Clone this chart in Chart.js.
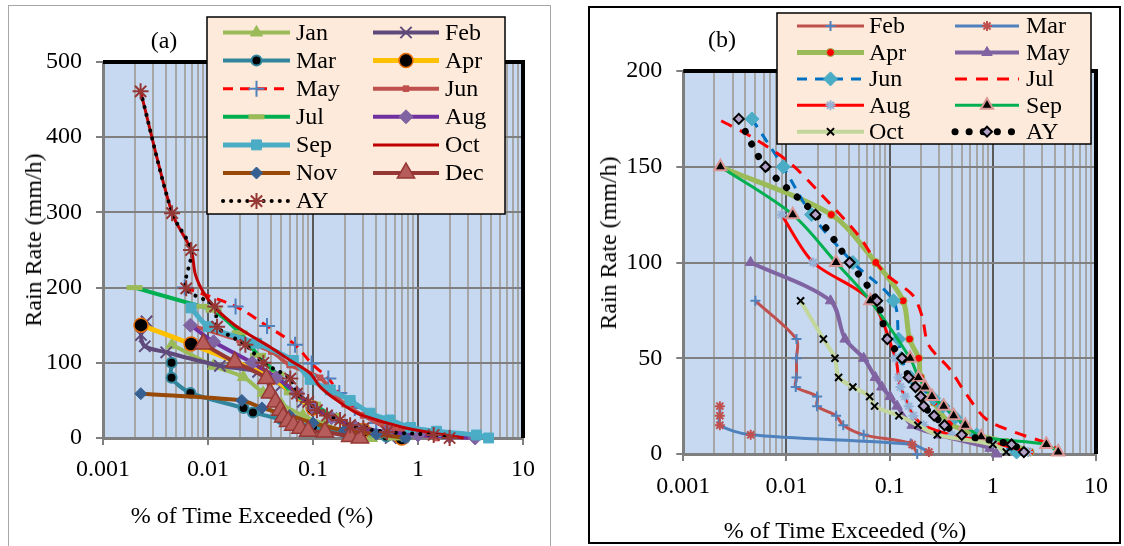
<!DOCTYPE html>
<html>
<head>
<meta charset="utf-8">
<script src="https://cdn.jsdelivr.net/npm/chart.js@4.4.1/dist/chart.umd.min.js"></script>
<style>
  body { margin:0; background:#fff; width:1124px; height:546px; overflow:hidden; position:relative; font-family:"Liberation Serif","Times New Roman",serif; }
  #frameA { position:absolute; left:8px; top:5px; width:541px; height:560px; border:1px solid #A6A6A6; }
  #frameB { position:absolute; left:588px; top:6px; width:529px; height:534px; border:2px solid #000; }
  canvas { position:absolute; top:0; }
  #cA { left:0; }
  #cB { left:560px; }
  .lbl { position:absolute; font-size:24px; line-height:1; color:#000; white-space:nowrap; transform:translate(-50%,-50%); }
  .rot { transform:translate(-50%,-50%) rotate(-90deg); }
</style>
</head>
<body>
<div id="frameA"></div>
<div id="frameB"></div>
<canvas id="cA" width="560" height="546"></canvas>
<canvas id="cB" width="564" height="546"></canvas>
<div class="lbl" style="left:164px;top:40px">(a)</div>
<div class="lbl" style="left:722px;top:39px">(b)</div>
<div class="lbl rot" style="left:33px;top:240px">Rain Rate (mm/h)</div>
<div class="lbl rot" style="left:608px;top:243px">Rain Rate (mm/h)</div>
<div class="lbl" style="left:252px;top:515px">% of Time Exceeded (%)</div>
<div class="lbl" style="left:845px;top:530px">% of Time Exceeded (%)</div>
<script>
// x tick labels (log axis, decades only)
const xTickLabels = ['0.001', '0.01', '0.1', '1', '10'];
const xDecades = [0.001, 0.01, 0.1, 1, 10];

// ---- panel (a): [% of time, rain rate] ----
const aNames = ['Jan','Feb','Mar','Apr','May','Jun','Jul','Aug','Sep','Oct','Nov','Dec','AY'];
const aJan = [[0.00454,124],[0.0113,96],[0.0217,81],[0.0335,60],[0.05,45],[0.08,30],[0.13,18],[0.2,8],[0.36,0]];
const aFeb = [[0.0026,155],[0.0023,137],[0.0025,122],[0.004,114],[0.013,96],[0.03,88],[0.05,70],[0.08,48],[0.15,26],[0.3,10],[0.55,0]];
const aMar = [[0.0045,100],[0.0045,80],[0.0068,60],[0.0218,40],[0.0268,34],[0.05,25],[0.1,15],[0.2,7],[0.5,2],[0.75,0]];
const aApr = [[0.0023,150],[0.0069,125],[0.04,80],[0.1,40],[0.3,10],[0.7,0]];
const aMay = [[0.006,200],[0.0183,175],[0.0365,149],[0.0675,124],[0.097,99],[0.14,79],[0.178,60],[0.25,40],[0.4,20],[0.7,5]];
const aJun = [[0.0068,150],[0.02,130],[0.04,115],[0.06,97],[0.117,80],[0.156,60],[0.2,45],[0.3,30],[0.5,15],[1,5],[1.5,0]];
const aJul = [[0.002,200],[0.0085,175],[0.0113,170],[0.02,140],[0.03,110],[0.045,85],[0.063,60],[0.1,45],[0.15,30],[0.25,15],[0.4,5],[0.6,0]];
const aAug = [[0.0068,150],[0.0113,128],[0.0264,100],[0.045,80],[0.07,60],[0.1,40],[0.15,27],[0.25,15],[0.5,8],[1,4],[2,2],[3.5,0]];
const aSep = [[0.0069,173],[0.0101,148],[0.029,126],[0.065,103],[0.094,78],[0.146,64],[0.226,50],[0.35,33],[0.54,24],[0.85,14],[1.5,9],[3.6,4],[4.7,0]];
const aOct = [[0.00228,461],[0.00455,299],[0.0069,250],[0.0076,217],[0.0093,191],[0.0123,170],[0.018,150],[0.025,137],[0.039,121],[0.061,103],[0.094,86],[0.117,68],[0.169,50],[0.262,33],[0.405,24],[0.68,15],[1.21,8],[2.72,0]];
const aNov = [[0.00229,59],[0.021,50],[0.0327,40],[0.06,30],[0.1,20],[0.2,10],[0.4,5],[0.76,0]];
const aDec = [[0.009,125],[0.018,101],[0.036,79],[0.039,60],[0.044,48],[0.049,37],[0.052,28],[0.058,22],[0.065,17],[0.076,13],[0.09,9],[0.13,8],[0.226,2],[0.28,0]];
const aAY = [[0.00228,461],[0.00455,299],[0.0069,250],[0.0062,199],[0.0117,175],[0.0122,148],[0.0227,124],[0.0337,100],[0.0608,79],[0.0703,59],[0.09,48],[0.109,37],[0.136,30],[0.181,24],[0.226,17],[0.302,13],[0.506,8],[1.41,4],[2.0,0]];
const aSeries = [aJan,aFeb,aMar,aApr,aMay,aJun,aJul,aAug,aSep,aOct,aNov,aDec,aAY];

// ---- panel (b) ----
const bNames = ['Feb','Mar','Apr','May','Jun','Jul','Aug','Sep','Oct','AY'];
const bFeb = [[0.005,80],[0.0125,60],[0.0125,50],[0.0125,40],[0.0123,35],[0.0198,30],[0.0198,25],[0.0303,20],[0.0355,15],[0.056,10],[0.16,5.5],[0.185,0]];
const bMar = [[0.00226,25],[0.00226,20],[0.00226,15],[0.0045,10],[0.165,5],[0.24,1]];
const bApr = [[0.00229,150],[0.0272,125],[0.0733,100],[0.135,80],[0.156,60],[0.191,50],[0.2,40],[0.27,27],[0.38,16],[0.71,10],[1.37,6],[2.3,1]];
const bMay = [[0.00449,100],[0.0267,80],[0.037,60],[0.056,50],[0.0727,40],[0.084,35],[0.101,30],[0.118,25],[0.165,15],[0.3,10],[0.94,3],[1.09,0]];
const bJun = [[0.00463,175],[0.0093,150],[0.0175,125],[0.044,100],[0.109,80],[0.122,60],[0.13,50],[0.16,40],[0.267,29],[0.33,25],[0.43,19],[0.7,10],[1.7,1]];
const bJul = [[0.00233,174],[0.0048,165],[0.0108,152],[0.0222,135],[0.05,114],[0.0875,95],[0.167,83],[0.206,72],[0.238,57],[0.387,44],[0.54,32],[0.87,18],[1.7,11],[3.6,5],[4.5,1]];
const bAug = [[0.00895,125],[0.0182,100],[0.066,80],[0.114,50],[0.122,40],[0.127,35],[0.141,30],[0.153,25],[0.17,20],[0.213,15],[0.4,10],[1,6],[2.2,1]];
const bSep = [[0.00229,150],[0.0115,125],[0.0302,100],[0.065,80],[0.158,50],[0.19,40],[0.22,35],[0.257,30],[0.334,25],[0.417,20],[0.54,15],[0.77,9],[3.3,5],[4.3,1]];
const bOct = [[0.0137,80],[0.0228,60],[0.0295,50],[0.032,40],[0.044,35],[0.064,30],[0.0715,25],[0.123,20],[0.188,15],[0.29,10],[1.0,5],[1.35,1]];
const bAY = [[0.00345,175],[0.00626,150],[0.0191,125],[0.041,100],[0.0755,80],[0.095,60],[0.132,50],[0.153,40],[0.178,35],[0.2,30],[0.214,25],[0.27,20],[0.34,15],[0.5,10],[1.52,5],[2.0,1]];
const bSeries = [bFeb,bMar,bApr,bMay,bJun,bJul,bAug,bSep,bOct,bAY];

// line / marker looks, same order as the names
const aStyles = [
  {line:'#9BBB59', w:4, ps:'triangle', r:7, pc:'#9BBB59', fill:'#9BBB59', pw:1},
  {line:'#604A7B', w:4, ps:'crossRot', r:8, pc:'#604A7B', pw:2},
  {line:'#31859C', w:4, ps:'circle', r:5, pc:'#31859C', fill:'#000', pw:2},
  {line:'#FFC000', w:5, ps:'circle', r:7, pc:'#E46C0A', fill:'#000', pw:1.5},
  {line:'#FF0000', w:3, dash:[10,7], ps:'cross', r:8, pc:'#4F81BD', pw:2},
  {line:'#C0504D', w:4, ps:'rect', r:4, pc:'#C0504D', fill:'#C0504D', pw:1},
  {line:'#00B050', w:4, ps:'line', r:8, pc:'#9BBB59', pw:5},
  {line:'#7030A0', w:4, ps:'rectRot', r:7, pc:'#8064A2', fill:'#8064A2', pw:1},
  {line:'#4BACC6', w:5, ps:'rect', r:7, pc:'#4BACC6', fill:'#4BACC6', pw:1},
  {line:'#C00000', w:3},
  {line:'#984807', w:4, ps:'rectRot', r:6, pc:'#376092', fill:'#376092', pw:1},
  {line:'#953735', w:4, ps:'triangle', r:10, pc:'#953735', fill:'#B65C5A', pw:1.5},
  {line:'#000000', w:4, dash:[0.1,8], cap:'round', ps:'star', r:8, pc:'#953735', pw:2}
];
const bStyles = [
  {line:'#C0504D', w:3, ps:'cross', r:5, pc:'#4F81BD', pw:2},
  {line:'#4F81BD', w:3, ps:'star', r:5, pc:'#C0504D', pw:2},
  {line:'#9BBB59', w:5, ps:'circle', r:4, pc:'#9BBB59', fill:'#FF0000', pw:1},
  {line:'#8064A2', w:4, ps:'triangle', r:6, pc:'#8064A2', fill:'#8064A2', pw:1},
  {line:'#0070C0', w:3, dash:[10,8], ps:'rectRot', r:7, pc:'#4BACC6', fill:'#4BACC6', pw:1},
  {line:'#FF0000', w:3, dash:[12,9]},
  {line:'#FF0000', w:3, ps:'star', r:5, pc:'#95B3D7', pw:2},
  {line:'#00B050', w:3, ps:'triangle', r:7, pc:'#D99694', fill:'#000', pw:2},
  {line:'#C3D69B', w:4, ps:'crossRot', r:5, pc:'#000', pw:2},
  {line:'#000000', w:7, dash:[0.1,14], cap:'round', ps:'rectRot', r:5, pc:'#000', fill:'#B3A2C7', pw:2}
];

const FONT = 'Liberation Serif';

function isDecade(v) {
  const l = Math.log10(v);
  return Math.abs(l - Math.round(l)) < 1e-6;
}

// gridline positions 1..9 x 10^k
const gridVals = [];
for (let e = -3; e < 1; e++) for (let k = 1; k < 10; k++) gridVals.push(+(k * Math.pow(10, e)).toPrecision(3));
gridVals.push(10);

function makeDataset(name, pts, st, i) {
  return {
    label: name,
    data: pts.map(p => ({x: p[0], y: p[1]})),
    borderColor: st.line,
    borderWidth: st.w,
    borderDash: st.dash || [],
    borderCapStyle: st.cap || 'butt',
    pointStyle: st.ps || 'circle',
    pointRadius: st.ps ? st.r : 0,
    pointBackgroundColor: st.fill || st.pc || st.line,
    pointBorderColor: st.pc || st.line,
    pointBorderWidth: st.pw || 1,
    tension: 0.3,
    fill: false,
    clip: false,
    order: -i
  };
}

const plotBg = {
  id: 'plotBg',
  beforeDraw(chart) {
    const a = chart.chartArea, ctx = chart.ctx;
    ctx.save();
    ctx.fillStyle = '#C6D9F1';
    ctx.fillRect(a.left, a.top, a.right - a.left, a.bottom - a.top);
    ctx.restore();
  }
};

const plotFrame = {
  id: 'plotFrame',
  afterDraw(chart) {
    const a = chart.chartArea, ctx = chart.ctx;
    ctx.save();
    ctx.strokeStyle = '#000';
    ctx.lineWidth = 4;
    ctx.beginPath();
    ctx.moveTo(a.left, a.top);
    ctx.lineTo(a.right, a.top);
    ctx.lineTo(a.right, a.bottom);
    ctx.stroke();
    ctx.restore();
  }
};

const boxLegend = {
  id: 'boxLegend',
  afterDraw(chart, args, o) {
    const ctx = chart.ctx;
    ctx.save();
    ctx.fillStyle = '#FDEADA';
    ctx.fillRect(o.x, o.y, o.w, o.h);
    ctx.strokeStyle = '#000';
    ctx.lineWidth = 1.5;
    ctx.strokeRect(o.x, o.y, o.w, o.h);
    chart.data.datasets.forEach((ds, i) => {
      const cy = o.row0 + Math.floor(i / 2) * o.rowH;
      const c = o.cols[i % 2];
      ctx.save();
      ctx.beginPath();
      ctx.strokeStyle = ds.borderColor;
      ctx.lineWidth = ds.borderWidth;
      ctx.setLineDash(ds.borderDash);
      ctx.lineCap = ds.borderCapStyle;
      ctx.moveTo(c.x0, cy);
      ctx.lineTo(c.x1, cy);
      ctx.stroke();
      ctx.restore();
      if (ds.pointRadius > 0) {
        ctx.save();
        ctx.fillStyle = ds.pointBackgroundColor;
        ctx.strokeStyle = ds.pointBorderColor;
        ctx.lineWidth = ds.pointBorderWidth;
        Chart.helpers.drawPoint(ctx, {pointStyle: ds.pointStyle, radius: ds.pointRadius, rotation: 0, borderWidth: ds.pointBorderWidth}, (c.x0 + c.x1) / 2, cy);
        ctx.restore();
      }
      ctx.fillStyle = '#000';
      ctx.font = '24px "' + FONT + '"';
      ctx.textAlign = 'left';
      ctx.textBaseline = 'middle';
      ctx.fillText(ds.label, c.tx, cy + 1);
    });
    ctx.restore();
  }
};

function makePanel(id, names, series, styles, g) {
  return new Chart(document.getElementById(id), {
    type: 'line',
    data: { datasets: series.map((s, i) => makeDataset(names[i], s, styles[i], i)) },
    options: {
      responsive: false,
      animation: false,
      events: [],
      layout: { padding: g.pad },
      plugins: { legend: { display: false }, tooltip: { enabled: false }, boxLegend: g.legend },
      scales: {
        x: {
          type: 'logarithmic', min: 0.001, max: 10,
          afterBuildTicks: s => { s.ticks = gridVals.map(v => ({value: v, major: isDecade(v)})); },
          afterFit: s => { s.height = 60; },
          ticks: {
            autoSkip: false, maxRotation: 0, minRotation: 0, padding: g.xPad, color: '#000',
            font: { family: FONT, size: 24 },
            callback: v => {
              const k = xDecades.findIndex(d => Math.abs(Math.log10(v / d)) < 1e-6);
              return k >= 0 ? xTickLabels[k] : '';
            }
          },
          grid: {
            lineWidth: 2, tickLength: 7,
            color: c => (c.tick && isDecade(c.tick.value)) ? '#595959' : '#A6A6A6',
            tickColor: c => (c.tick && isDecade(c.tick.value)) ? '#7F7F7F' : 'rgba(0,0,0,0)'
          },
          border: { color: '#7F7F7F', width: 3 }
        },
        y: {
          min: 0, max: g.yMax,
          afterFit: s => { s.width = g.yWidth; },
          ticks: { stepSize: g.yStep, padding: 14, color: '#000', font: { family: FONT, size: 24 } },
          grid: { color: '#7F7F7F', lineWidth: 2, tickLength: 7, tickColor: '#7F7F7F' },
          border: { color: '#7F7F7F', width: 3 }
        }
      }
    },
    plugins: [plotBg, plotFrame, boxLegend]
  });
}

makePanel('cA', aNames, aSeries, aStyles, {
  pad: { left: 40, top: 62, right: 37, bottom: 48 },
  yWidth: 63, yMax: 500, yStep: 100, xPad: 10,
  legend: { x: 207, y: 17, w: 298, h: 197, row0: 32.5, rowH: 28.1,
    cols: [ {x0: 223, x1: 290, tx: 296}, {x0: 373, x1: 439, tx: 445} ] }
});

makePanel('cB', bNames, bSeries, bStyles, {
  pad: { left: 60, top: 71, right: 28, bottom: 32 },
  yWidth: 63.3, yMax: 200, yStep: 50, xPad: 11,
  legend: { x: 217, y: 13, w: 314, h: 131, row0: 26.1, rowH: 26.4,
    cols: [ {x0: 237, x1: 304, tx: 309}, {x0: 395, x1: 459, tx: 466} ] }
});
</script>
</body>
</html>
